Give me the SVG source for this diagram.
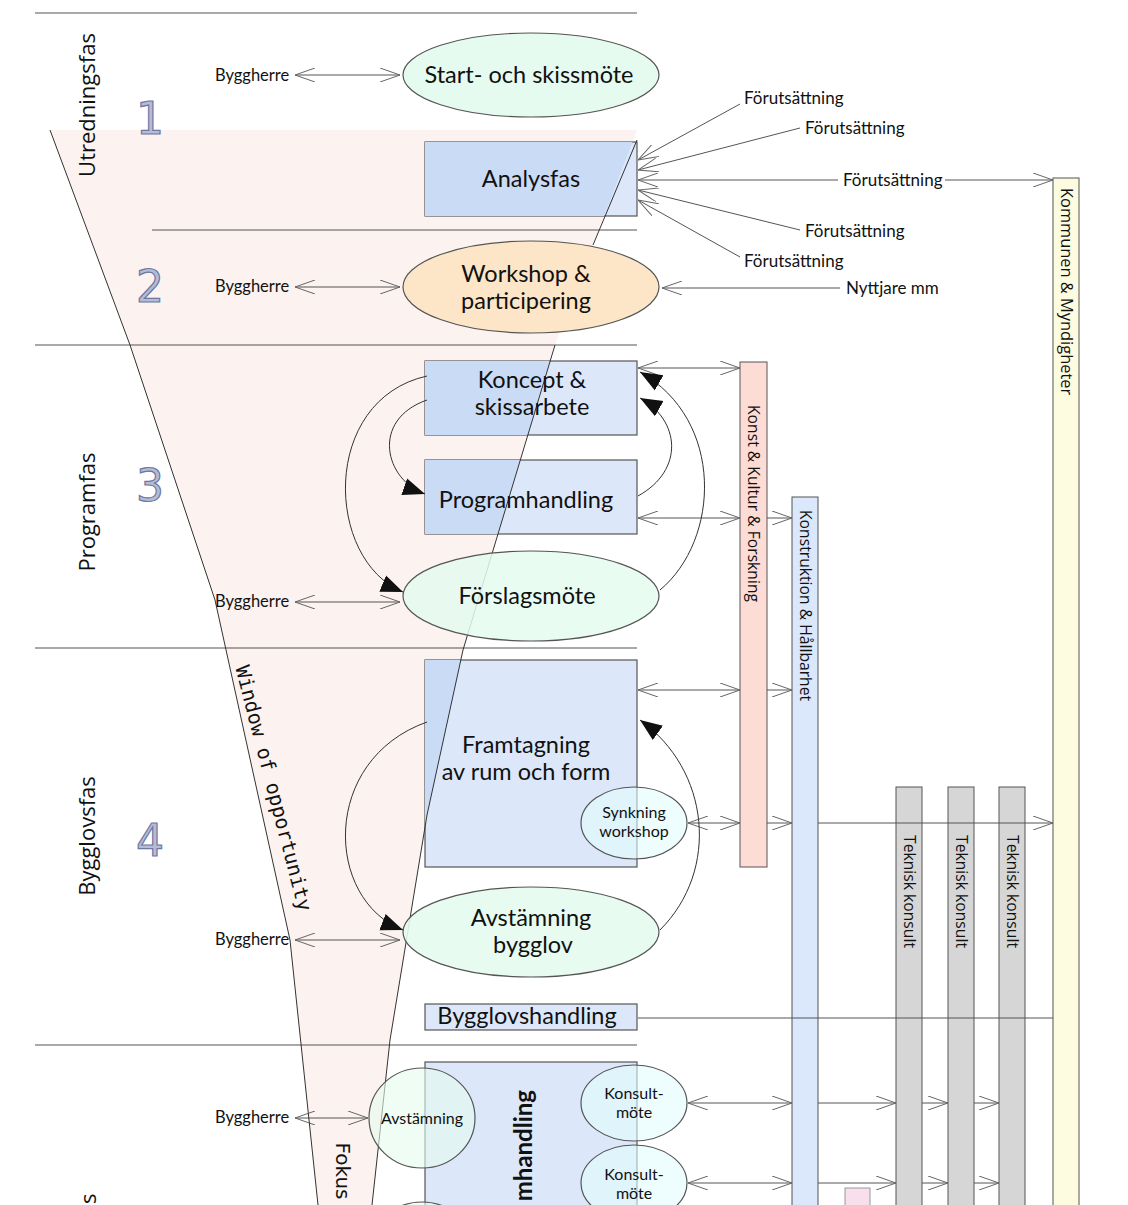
<svg xmlns="http://www.w3.org/2000/svg" width="1128" height="1205" viewBox="0 0 1128 1205">
<style>
.t{font-family:Lato,"Open Sans",sans-serif;fill:#111}
.n{font-size:23.5px}
.s{font-size:16.5px}
.f{font-size:17px}
.ph{font-family:"Open Sans",sans-serif;font-size:22px;fill:#111}
.num{font-family:"DejaVu Sans",sans-serif;font-size:44px;fill:#b4bcd6;stroke:#6d78a3;stroke-width:1.2}
.box{stroke:#555;stroke-width:1.2}
.bar{stroke:#555;stroke-width:1}
.sep{stroke:#555;stroke-width:1.2;fill:none}
.ln{stroke:#555;stroke-width:1;fill:none}
.cv{stroke:#333;stroke-width:1;fill:none;marker-end:url(#blk)}
.da{stroke:#555;stroke-width:1;fill:none;marker-start:url(#ch);marker-end:url(#ch)}
.ea{stroke:#555;stroke-width:1;fill:none;marker-end:url(#ch)}
.bt{font-family:"Open Sans",sans-serif;font-size:15.7px;fill:#111}
</style>
<defs>
<marker id="ch" viewBox="0 0 20 14" refX="20" refY="7" markerWidth="20" markerHeight="14" markerUnits="userSpaceOnUse" orient="auto-start-reverse"><path d="M0,0 L20,7 L0,14" fill="none" stroke="#666" stroke-width="1"/></marker>
<marker id="blk" viewBox="0 0 20 20" refX="20" refY="10" markerWidth="22" markerHeight="22" markerUnits="userSpaceOnUse" orient="auto"><path d="M0,2 L20,10 L0,18 Z" fill="#111"/></marker>
<path id="fun" d="M50,130 L637,130 L593,245 L553,350 L463,650 L427,815 L390,1040 L372,1205 L318,1205 L290,940 L215,600 L130,345 Z"/>
<clipPath id="fc"><use href="#fun"/></clipPath>
</defs>
<rect width="1128" height="1205" fill="#fff"/>
<use href="#fun" fill="#fcf2ef"/>
<g id="separators">
<path class="sep" d="M35,13 H637 M152,230 H637 M35,345 H637 M35,648 H637 M35,1045 H637"/>
</g>
<g id="phases">
<text class="ph" transform="translate(95,105) rotate(-90)" text-anchor="middle">Utredningsfas</text>
<text class="ph" transform="translate(95,512) rotate(-90)" text-anchor="middle">Programfas</text>
<text class="ph" transform="translate(95,836) rotate(-90)" text-anchor="middle">Bygglovsfas</text>
<text class="ph" transform="translate(96,1204) rotate(-90)" text-anchor="start">s</text>
<text class="num" x="150" y="134" text-anchor="middle">1</text>
<text class="num" x="150" y="302" text-anchor="middle">2</text>
<text class="num" x="150" y="501" text-anchor="middle">3</text>
<text class="num" x="150" y="856" text-anchor="middle">4</text>
<text transform="translate(267,790) rotate(75.4)" text-anchor="middle" style="font-family:'DejaVu Sans Mono',monospace;font-size:20px;fill:#111">Window of opportunity</text>
<text transform="translate(336,1171) rotate(90)" text-anchor="middle" style="font-family:'DejaVu Sans',sans-serif;font-size:20px;fill:#111">Fokus</text>
</g>
<g id="bars">
<rect class="bar" x="740" y="362" width="27" height="505" fill="#fddcd6"/>
<rect class="bar" x="792" y="497" width="26" height="720" fill="#dbe7fb"/>
<rect class="bar" x="896" y="787" width="26" height="430" fill="#d6d6d6"/>
<rect class="bar" x="948" y="787" width="26" height="430" fill="#d6d6d6"/>
<rect class="bar" x="999" y="787" width="26" height="430" fill="#d6d6d6"/>
<rect class="bar" x="1053" y="178" width="26" height="1040" fill="#fdfce0"/>
<rect x="845" y="1188" width="25" height="20" fill="#f7dfec" stroke="#999"/>
<text class="bt" transform="translate(748,405) rotate(90)">Konst &amp; Kultur &amp; Forskning</text>
<text class="bt" transform="translate(800,510) rotate(90)">Konstruktion &amp; Hållbarhet</text>
<text class="bt" transform="translate(904,835) rotate(90)">Teknisk konsult</text>
<text class="bt" transform="translate(956,835) rotate(90)">Teknisk konsult</text>
<text class="bt" transform="translate(1007,835) rotate(90)">Teknisk konsult</text>
<text class="bt" transform="translate(1061,188) rotate(90)" style="font-size:16.4px">Kommunen &amp; Myndigheter</text>
</g>
<g id="connectors">
<line class="da" x1="295" y1="75" x2="400" y2="75"/>
<line class="da" x1="295" y1="287" x2="400" y2="287"/>
<line class="da" x1="295" y1="602" x2="400" y2="602"/>
<line class="da" x1="295" y1="940" x2="400" y2="940"/>
<line class="da" x1="295" y1="1118" x2="368" y2="1118"/>
<path class="ea" d="M740,104 L638,160"/>
<path class="ea" d="M800,128 L638,170"/>
<path class="ea" d="M838,180 L638,180"/>
<path class="ea" d="M945,180 L1053,180"/>
<path class="ea" d="M800,230 L638,190"/>
<path class="ea" d="M740,257 L638,200"/>
<path class="ea" d="M840,288 L662,288"/>
<line class="da" x1="638" y1="368" x2="740" y2="368"/>
<line class="da" x1="638" y1="518" x2="740" y2="518"/>
<line class="ea" x1="767" y1="518" x2="792" y2="518"/>
<line class="da" x1="638" y1="690" x2="740" y2="690"/>
<line class="ea" x1="767" y1="690" x2="792" y2="690"/>
<line class="da" x1="688" y1="823" x2="740" y2="823"/>
<line class="ea" x1="767" y1="823" x2="792" y2="823"/>
<line class="ea" x1="818" y1="823" x2="1053" y2="823"/>
<line class="ln" x1="638" y1="1018" x2="1053" y2="1018"/>
<line class="da" x1="688" y1="1103" x2="792" y2="1103"/>
<line class="ea" x1="818" y1="1103" x2="896" y2="1103"/>
<line class="ea" x1="922" y1="1103" x2="948" y2="1103"/>
<line class="ea" x1="974" y1="1103" x2="999" y2="1103"/>
<line class="da" x1="688" y1="1183" x2="792" y2="1183"/>
<line class="ea" x1="818" y1="1183" x2="896" y2="1183"/>
<line class="ea" x1="922" y1="1183" x2="948" y2="1183"/>
<line class="ea" x1="974" y1="1183" x2="999" y2="1183"/>
</g>
<g id="n-start"><ellipse class="box" cx="531" cy="75" rx="128" ry="42" fill="#e6fbf0"/><text class="t n" x="529" y="83" text-anchor="middle">Start- och skissmöte</text></g>
<g id="n-analys"><rect class="box" x="425" y="142" width="212" height="74" fill="#dce8fa"/></g>
<g id="n-workshop"><ellipse class="box" cx="531" cy="287" rx="128" ry="46" fill="#fde6c8"/></g>
<g id="n-koncept"><rect class="box" x="425" y="361" width="212" height="74" fill="#dce8fa"/></g>
<g id="n-program"><rect class="box" x="425" y="460" width="212" height="74" fill="#dce8fa"/></g>
<g id="n-framtagning"><rect class="box" x="425" y="660" width="212" height="207" fill="#dce8fa"/></g>
<g id="n-bygglovsh"><rect class="box" x="425" y="1004" width="212" height="26" fill="#dce8fa"/></g>
<g id="n-system"><rect class="box" x="425" y="1062" width="212" height="160" fill="#dce8fa"/></g>
<g id="shade" clip-path="url(#fc)">
<rect x="425" y="142" width="212" height="74" fill="#cadbf5"/>
<rect x="425" y="361" width="212" height="74" fill="#cadbf5"/>
<rect x="425" y="460" width="212" height="74" fill="#cadbf5"/>
<rect x="425" y="660" width="212" height="207" fill="#cadbf5"/>
</g>
<path d="M637,140 L593,245 M555,345 L463,650 L427,815 L390,1040 L372,1205 M50,130 L130,345 L215,600 L290,940 L318,1205" fill="none" stroke="#333" stroke-width="1"/>
<g id="n-forslag"><ellipse class="box" cx="531" cy="596" rx="128" ry="45" fill="#e4fbee" fill-opacity="0.85"/><text class="t n" x="527" y="604" text-anchor="middle">Förslagsmöte</text></g>
<g id="n-avst"><ellipse class="box" cx="531" cy="932" rx="128" ry="45" fill="#e4fbee" fill-opacity="0.9"/><text class="t n" x="531" y="926" text-anchor="middle">Avstämning</text><text class="t n" x="533" y="953" text-anchor="middle">bygglov</text></g>
<g id="n-synk"><ellipse class="box" cx="634" cy="823" rx="53" ry="36" fill="#e2fbfd" fill-opacity="0.6"/><text class="t" style="font-size:16px" x="634" y="818" text-anchor="middle">Synkning</text><text class="t" style="font-size:16px" x="634" y="837" text-anchor="middle">workshop</text></g>
<g id="n-avst2"><ellipse class="box" cx="422" cy="1118" rx="53" ry="50" fill="#e4fbee" fill-opacity="0.6"/><text class="t" style="font-size:16px" x="422" y="1124" text-anchor="middle">Avstämning</text></g>
<g id="n-konsult1"><ellipse class="box" cx="634" cy="1103" rx="53" ry="38" fill="#e2fbfd" fill-opacity="0.6"/><text class="t" style="font-size:16px" x="634" y="1099" text-anchor="middle">Konsult-</text><text class="t" style="font-size:16px" x="634" y="1118" text-anchor="middle">möte</text></g>
<g id="n-konsult2"><ellipse class="box" cx="634" cy="1183" rx="53" ry="38" fill="#e2fbfd" fill-opacity="0.6"/><text class="t" style="font-size:16px" x="634" y="1180" text-anchor="middle">Konsult-</text><text class="t" style="font-size:16px" x="634" y="1199" text-anchor="middle">möte</text></g>
<g id="n-avst3"><ellipse class="box" cx="422" cy="1252" rx="53" ry="50" fill="#e4fbee" fill-opacity="0.6"/></g>
<g id="labels">
<text class="t n" x="531" y="187" text-anchor="middle">Analysfas</text>
<text class="t n" x="526" y="282" text-anchor="middle">Workshop &amp;</text>
<text class="t n" x="526" y="309" text-anchor="middle">participering</text>
<text class="t n" x="532" y="388" text-anchor="middle">Koncept &amp;</text>
<text class="t n" x="532" y="415" text-anchor="middle">skissarbete</text>
<text class="t n" x="526" y="508" text-anchor="middle">Programhandling</text>
<text class="t n" x="526" y="753" text-anchor="middle">Framtagning</text>
<text class="t n" x="526" y="780" text-anchor="middle">av rum och form</text>
<text class="t n" x="527" y="1024" text-anchor="middle">Bygglovshandling</text>
<text class="t n" transform="translate(532,1090) rotate(-90)" text-anchor="end" style="font-weight:bold;font-size:24px">mhandling</text>
<text class="t s" x="215" y="81">Byggherre</text>
<text class="t s" x="215" y="292">Byggherre</text>
<text class="t s" x="215" y="607">Byggherre</text>
<text class="t s" x="215" y="945">Byggherre</text>
<text class="t s" x="215" y="1123">Byggherre</text>
<text class="t f" x="744" y="104">Förutsättning</text>
<text class="t f" x="805" y="134">Förutsättning</text>
<text class="t f" x="843" y="186">Förutsättning</text>
<text class="t f" x="805" y="237">Förutsättning</text>
<text class="t f" x="744" y="267">Förutsättning</text>
<text class="t f" x="846" y="294">Nyttjare mm</text>
</g>
<g id="curves">
<path class="cv" d="M427,400 C370,420 385,480 425,494"/>
<path class="cv" d="M427,376 C320,400 325,560 403,592"/>
<path class="cv" d="M638,496 C685,470 680,420 640,398"/>
<path class="cv" d="M660,590 C720,540 725,420 640,372"/>
<path class="cv" d="M427,722 C320,760 325,900 403,930"/>
<path class="cv" d="M660,930 C720,870 710,770 640,720"/>
</g>
</svg>
